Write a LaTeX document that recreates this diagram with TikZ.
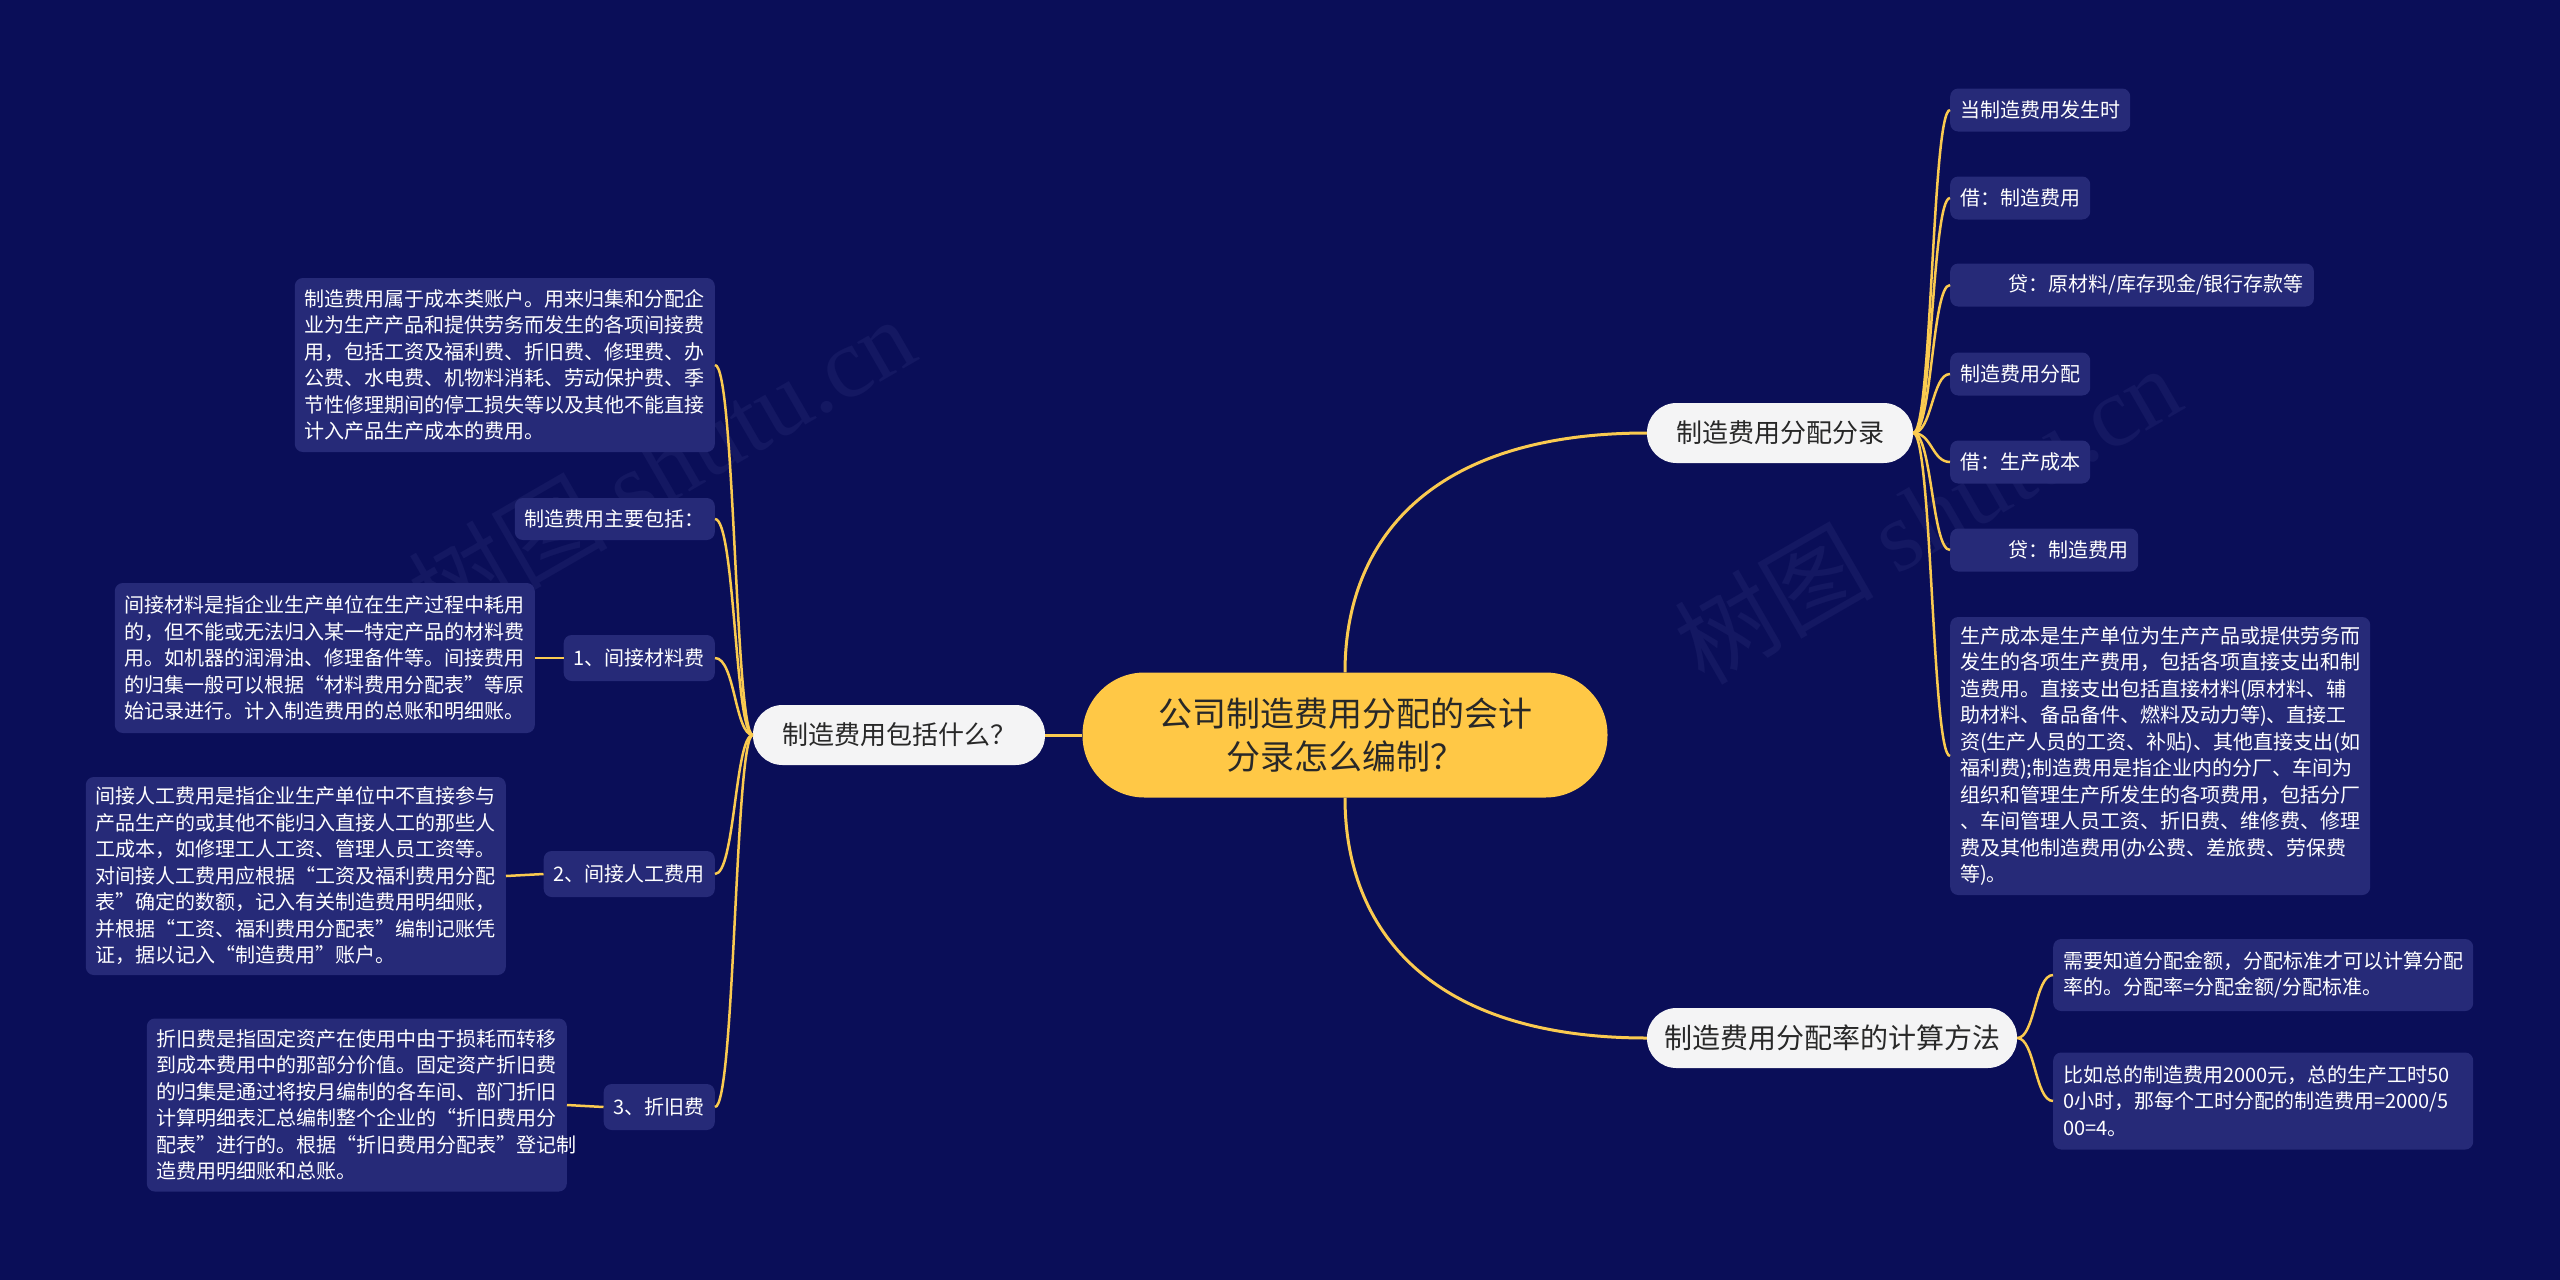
\documentclass[tikz,border=0pt]{standalone}
\usepackage{fontspec}
\setmainfont{Noto Sans CJK SC}
\newfontfamily\wmserif{Liberation Serif}
\definecolor{bg}{RGB}{10,14,88}
\definecolor{boxc}{RGB}{38,42,120}
\definecolor{linec}{RGB}{250,202,80}
\definecolor{cent}{RGB}{255,200,70}
\definecolor{pill}{RGB}{244,244,245}
\definecolor{dtext}{RGB}{40,40,40}
\definecolor{wm}{RGB}{20,24,98}
\tikzset{
 conn/.style={draw=linec, line width=3pt},
 subconn/.style={draw=linec, line width=2.5pt},
 leaf/.style={fill=boxc, rounded corners=8pt, text=white, font=\fontsize{20pt}{26.5pt}\selectfont, inner xsep=10pt, inner ysep=0pt, minimum height=43pt},
 para/.style={leaf, text width=400pt, align=left},
 branch/.style={fill=pill, rounded corners=29.5pt, text=dtext, font=\fontsize{26pt}{30pt}\selectfont, minimum height=60pt, inner xsep=0pt},
 root/.style={fill=cent, rounded corners=62pt, text=dtext, font=\fontsize{34pt}{42.5pt}\selectfont, align=center, minimum width=525pt, minimum height=125pt},
 wmark/.style={text=wm, rotate=30, font=\fontsize{100pt}{100pt}\selectfont},
}
\begin{document}
\begin{tikzpicture}[x=1pt,y=-1pt]
\useasboundingbox[fill=bg] (0,0) rectangle (2560,1280);
% watermarks
\node[wmark] (W1) at (661,465) {树图 {\wmserif shutu.cn}};
\node[wmark] (W2) at (1927,514) {树图 {\wmserif shutu.cn}};
% root and branches
\node[root] (C) at (1345,735) {公司制造费用分配的会计\\分录怎么编制？};
\node[branch, minimum width=292pt] (L) at (899,735) {制造费用包括什么？};
\node[branch, minimum width=266pt] (R1) at (1780,433) {制造费用分配分录};
\node[branch, minimum width=370pt, font=\fontsize{28pt}{32pt}\selectfont] (R2) at (1832,1038) {制造费用分配率的计算方法};
% left side
\node[para, anchor=east, minimum height=174pt] (LA) at (715,365) {制造费用属于成本类账户。用来归集和分配企\\业为生产产品和提供劳务而发生的各项间接费\\用，包括工资及福利费、折旧费、修理费、办\\公费、水电费、机物料消耗、劳动保护费、季\\节性修理期间的停工损失等以及其他不能直接\\计入产品生产成本的费用。};
\node[leaf, anchor=east, minimum height=42pt] (LS) at (715,519) {制造费用主要包括：};
\node[leaf, anchor=east, minimum height=46pt] (L1) at (715,658) {1、间接材料费};
\node[para, anchor=east, minimum height=150pt] (LB) at (535,658) {间接材料是指企业生产单位在生产过程中耗用\\的，但不能或无法归入某一特定产品的材料费\\用。如机器的润滑油、修理备件等。间接费用\\的归集一般可以根据“材料费用分配表”等原\\始记录进行。计入制造费用的总账和明细账。};
\node[leaf, anchor=east, minimum height=46pt] (L2) at (715,874) {2、间接人工费用};
\node[para, anchor=east, minimum height=198pt] (LC) at (506,876) {间接人工费用是指企业生产单位中不直接参与\\产品生产的或其他不能归入直接人工的那些人\\工成本，如修理工人工资、管理人员工资等。\\对间接人工费用应根据“工资及福利费用分配\\表”确定的数额，记入有关制造费用明细账，\\并根据“工资、福利费用分配表”编制记账凭\\证，据以记入“制造费用”账户。};
\node[leaf, anchor=east, minimum height=46pt] (L3) at (715,1107) {3、折旧费};
\node[para, anchor=east, minimum height=173pt] (LD) at (567,1105) {折旧费是指固定资产在使用中由于损耗而转移\\到成本费用中的那部分价值。固定资产折旧费\\的归集是通过将按月编制的各车间、部门折旧\\计算明细表汇总编制整个企业的“折旧费用分\\配表”进行的。根据“折旧费用分配表”登记制\\造费用明细账和总账。};
% right side: entries
\node[leaf, anchor=west] (E1) at (1950,110) {当制造费用发生时};
\node[leaf, anchor=west] (E2) at (1950,198) {借：制造费用};
\node[leaf, anchor=west] (E3) at (1950,285) {\hspace*{48pt}贷：原材料/库存现金/银行存款等};
\node[leaf, anchor=west] (E4) at (1950,374) {制造费用分配};
\node[leaf, anchor=west] (E5) at (1950,462) {借：生产成本};
\node[leaf, anchor=west] (E6) at (1950,550) {\hspace*{48pt}贷：制造费用};
\node[para, anchor=west, minimum height=278pt] (E7) at (1950,756) {生产成本是生产单位为生产产品或提供劳务而\\发生的各项生产费用，包括各项直接支出和制\\造费用。直接支出包括直接材料(原材料、辅\\助材料、备品备件、燃料及动力等)、直接工\\资(生产人员的工资、补贴)、其他直接支出(如\\福利费);制造费用是指企业内的分厂、车间为\\组织和管理生产所发生的各项费用，包括分厂\\、车间管理人员工资、折旧费、维修费、修理\\费及其他制造费用(办公费、差旅费、劳保费\\等)。};
% right side: rate
\node[para, anchor=west, minimum height=72pt] (F1) at (2053,975) {需要知道分配金额，分配标准才可以计算分配\\率的。分配率=分配金额/分配标准。};
\node[para, anchor=west, minimum height=97pt] (F2) at (2053,1101) {比如总的制造费用2000元，总的生产工时50\\0小时，那每个工时分配的制造费用=2000/5\\00=4。};
% connectors
\draw[conn] (L.east) -- (C.west);
\draw[conn] (C.north) .. controls (1345,540) and (1430,433) .. (R1.west);
\draw[conn] (C.south) .. controls (1345,930) and (1430,1038) .. (R2.west);
\foreach \n/\y in {LA/365, LS/519, L1/658, L2/874, L3/1107}
  \draw[subconn] (L.west) .. controls (735,735) and (735,\y) .. (\n.east);
\foreach \n/\y in {E1/110, E2/198, E3/285, E4/374, E5/462, E6/550, E7/756}
  \draw[subconn] (R1.east) .. controls (1932,433) and (1932,\y) .. (\n.west);
\foreach \n/\y in {F1/975, F2/1101}
  \draw[subconn] (R2.east) .. controls (2035,1038) and (2035,\y) .. (\n.west);
\draw[subconn] (LB.east) -- (L1.west);
\draw[subconn] (LC.east) -- (L2.west);
\draw[subconn] (LD.east) -- (L3.west);
\end{tikzpicture}
\end{document}
